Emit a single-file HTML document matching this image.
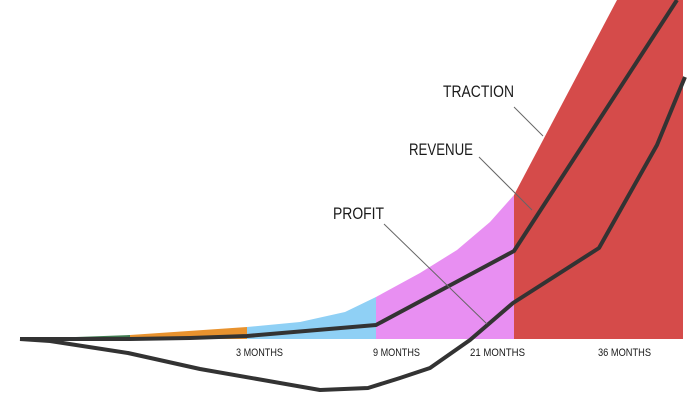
<!DOCTYPE html>
<html><head><meta charset="utf-8"><style>html,body{margin:0;padding:0;background:#fff;width:700px;height:402px;overflow:hidden}</style></head>
<body>
<svg width="700" height="402" viewBox="0 0 700 402" xmlns="http://www.w3.org/2000/svg" font-family="Liberation Sans Narrow, Liberation Sans, sans-serif">
<polygon points="20,339 130,335 130,339" fill="#3e7a4e"/>
<polygon points="130,335 247,327 247,339 130,339" fill="#e8922e"/>
<polygon points="247,327 300,322 345,312 376,297 376,339 247,339" fill="#8fd0f5"/>
<polygon points="376,297 420,273 457,250 490,222 514,195 514,339 376,339" fill="#e88ff2"/>
<polygon points="514,195 617,0 683,0 683,339 514,339" fill="#d54b4a"/>
<polyline points="20,339 130,339 190,338 247,336 376,325 460,280 514,251 677,0" fill="none" stroke="#333" stroke-width="4" stroke-linejoin="round"/>
<polyline points="20,339 50,341 128,353 200,369 320,390 368,388 400,378 430,368 470,340 513,303 599,248 657,145 685,77" fill="none" stroke="#333" stroke-width="4" stroke-linejoin="round"/>
<g stroke="#666" stroke-width="1">
<line x1="514" y1="107" x2="543" y2="136"/>
<line x1="479" y1="157" x2="532" y2="210"/>
<line x1="384" y1="224" x2="487" y2="324"/>
</g>
<g fill="#1a1a1a" font-size="17">
<text x="443" y="97" textLength="71" lengthAdjust="spacingAndGlyphs">TRACTION</text>
<text x="409" y="155" textLength="64" lengthAdjust="spacingAndGlyphs">REVENUE</text>
<text x="333" y="219" textLength="51" lengthAdjust="spacingAndGlyphs">PROFIT</text>
</g>
<g fill="#1a1a1a" font-size="11">
<text x="236" y="356" textLength="47" lengthAdjust="spacingAndGlyphs">3 MONTHS</text>
<text x="373" y="356" textLength="47" lengthAdjust="spacingAndGlyphs">9 MONTHS</text>
<text x="470" y="356" textLength="55" lengthAdjust="spacingAndGlyphs">21 MONTHS</text>
<text x="598" y="356" textLength="53" lengthAdjust="spacingAndGlyphs">36 MONTHS</text>
</g>
</svg>
</body></html>
